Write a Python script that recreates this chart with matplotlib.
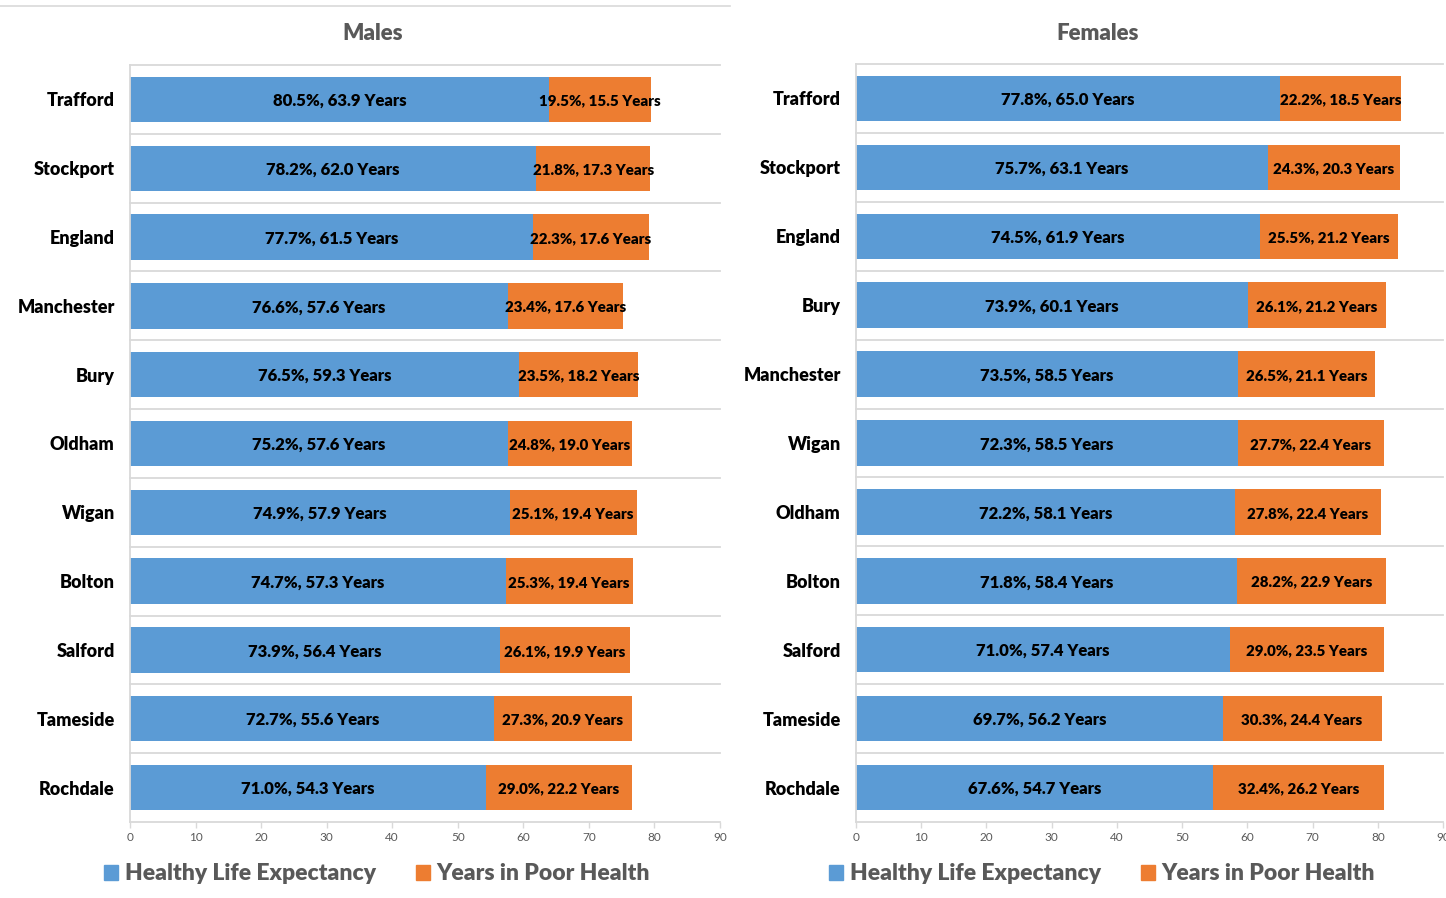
import matplotlib
matplotlib.use("Agg")
from matplotlib import pyplot as plt
from matplotlib.patches import Patch
from matplotlib.lines import Line2D

plt.rcParams['font.family'] = ['Lato', 'DejaVu Sans']

# Males data
male_areas = ["Trafford", "Stockport", "England", "Manchester", "Bury", "Oldham",
              "Wigan", "Bolton", "Salford", "Tameside", "Rochdale"]
male_healthy_pct = [80.5, 78.2, 77.7, 76.6, 76.5, 75.2, 74.9, 74.7, 73.9, 72.7, 71.0]
male_healthy_yrs = [63.9, 62.0, 61.5, 57.6, 59.3, 57.6, 57.9, 57.3, 56.4, 55.6, 54.3]
male_poor_pct = [19.5, 21.8, 22.3, 23.4, 23.5, 24.8, 25.1, 25.3, 26.1, 27.3, 29.0]
male_poor_yrs = [15.5, 17.3, 17.6, 17.6, 18.2, 19.0, 19.4, 19.4, 19.9, 20.9, 22.2]

# Females data
female_areas = ["Trafford", "Stockport", "England", "Bury", "Manchester", "Wigan",
                "Oldham", "Bolton", "Salford", "Tameside", "Rochdale"]
female_healthy_pct = [77.8, 75.7, 74.5, 73.9, 73.5, 72.3, 72.2, 71.8, 71.0, 69.7, 67.6]
female_healthy_yrs = [65.0, 63.1, 61.9, 60.1, 58.5, 58.5, 58.1, 58.4, 57.4, 56.2, 54.7]
female_poor_pct = [22.2, 24.3, 25.5, 26.1, 26.5, 27.7, 27.8, 28.2, 29.0, 30.3, 32.4]
female_poor_yrs = [18.5, 20.3, 21.2, 21.2, 21.1, 22.4, 22.4, 22.9, 23.5, 24.4, 26.2]

x_ticks = [0, 10, 20, 30, 40, 50, 60, 70, 80, 90]

BLUE = "#5B9BD5"
ORANGE = "#ED7D31"
GRID = "#D9D9D9"
GREY_TEXT = "#595959"
BOLD = "heavy"

W, H = 1446, 898
fig = plt.figure(figsize=(W / 100, H / 100), dpi=100)


def px_axes(x0, y0, x1, y1):
    return fig.add_axes([x0 / W, 1 - y1 / H, (x1 - x0) / W, (y1 - y0) / H])


def draw_panel(ax, areas, h_pct, h_yrs, p_pct, p_yrs):
    n = len(areas)
    pos = list(range(n))[::-1]
    ax.barh(pos, h_yrs, height=0.66, color=BLUE)
    ax.barh(pos, p_yrs, left=h_yrs, height=0.66, color=ORANGE)
    for y, hp, hy, pp, py in zip(pos, h_pct, h_yrs, p_pct, p_yrs):
        ax.text(hy / 2, y - 0.02, f"{hp:.1f}%, {hy:.1f} Years", ha="center", va="center",
                fontsize=12, fontweight=BOLD, color="black")
        ax.text(hy + py / 2, y - 0.02, f"{pp:.1f}%, {py:.1f} Years", ha="center", va="center",
                fontsize=10.8, fontweight=BOLD, color="black")
    # separators between categories
    for k in range(n):
        ax.axhline(k + 0.5, color=GRID, lw=1.3, zorder=0, clip_on=False)
    ax.set_ylim(-0.5, n - 0.5)
    ax.set_xlim(0, 90)
    ax.set_yticks(pos)
    ax.set_yticklabels(areas, fontsize=13, fontweight=BOLD)
    ax.tick_params(axis="y", length=0, pad=11)
    ax.set_xticks(x_ticks)
    ax.tick_params(axis="x", labelsize=8.5, colors=GREY_TEXT, length=4, width=1, color=GRID, pad=3)
    for s in ["top", "right"]:
        ax.spines[s].set_visible(False)
    ax.spines["left"].set_color(GRID)
    ax.spines["bottom"].set_color(GRID)
    ax.spines["left"].set_linewidth(1.3)
    ax.spines["bottom"].set_linewidth(1.3)


ax_m = px_axes(130, 65, 720, 822)
draw_panel(ax_m, male_areas, male_healthy_pct, male_healthy_yrs, male_poor_pct, male_poor_yrs)
ax_f = px_axes(856, 64, 1443, 822)
draw_panel(ax_f, female_areas, female_healthy_pct, female_healthy_yrs, female_poor_pct, female_poor_yrs)

# titles
fig.text(373 / W, 1 - 34 / H, "Males", ha="center", va="center", fontsize=16,
         fontweight=BOLD, color=GREY_TEXT)
fig.text(1098 / W, 1 - 33 / H, "Females", ha="center", va="center", fontsize=16,
         fontweight=BOLD, color=GREY_TEXT)

# frame line at top of male chart
fig.add_artist(Line2D([0, 730 / W], [1 - 6 / H, 1 - 6 / H], color=GRID, lw=1.2))

# legends
handles = [Patch(color=BLUE), Patch(color=ORANGE)]
labels = ["Healthy Life Expectancy", "Years in Poor Health"]
for cx in [377, 1102]:
    fig.legend(handles, labels, loc="center", bbox_to_anchor=(cx / W, 1 - 874 / H),
               ncol=2, frameon=False, handlelength=0.62, handleheight=0.62,
               handletextpad=0.28, columnspacing=1.75,
               prop={"size": 16.5, "weight": BOLD}, labelcolor=GREY_TEXT)

fig.savefig("out.png", dpi=100)
